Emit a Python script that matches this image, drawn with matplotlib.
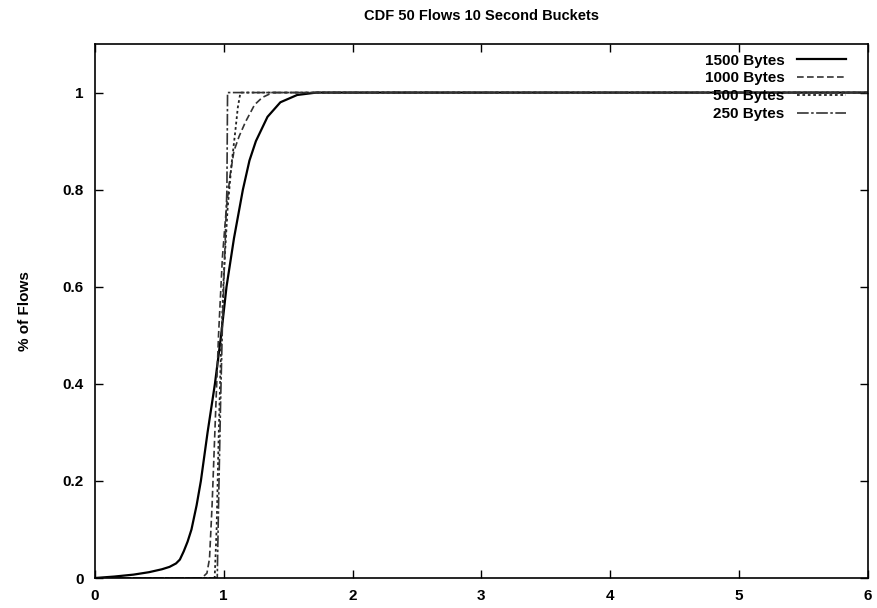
import numpy as np
import matplotlib.pyplot as plt
from matplotlib.ticker import FuncFormatter

plt.rcParams['font.family'] = ['Liberation Sans', 'DejaVu Sans']
plt.rcParams['font.weight'] = 'bold'

# CDF curves per packet size (x = normalized bucket value, y = fraction of flows)
x_1500 = [0, 0.15, 0.3, 0.42, 0.52, 0.58, 0.63, 0.66, 0.69, 0.72, 0.75, 0.79,
          0.823, 0.875, 0.932, 0.98, 1.022, 1.08, 1.149, 1.2, 1.25, 1.34, 1.44,
          1.57, 1.72, 6]
y_1500 = [0, 0.003, 0.007, 0.012, 0.018, 0.023, 0.03, 0.038, 0.055, 0.075,
          0.1, 0.15, 0.2, 0.3, 0.4, 0.5, 0.6, 0.7, 0.8, 0.86, 0.9, 0.95, 0.98,
          0.995, 1.0, 1.0]

x_1000 = [0, 0.83, 0.87, 0.89, 0.91, 0.93, 0.96, 0.99, 1.02, 1.05, 1.08,
          1.12, 1.17, 1.24, 1.3, 1.38, 6]
y_1000 = [0, 0, 0.01, 0.04, 0.15, 0.29, 0.50, 0.66, 0.76, 0.83, 0.88,
          0.91, 0.94, 0.975, 0.99, 1.0, 1.0]

x_500 = [0, 0.93, 0.945, 0.96, 0.98, 1.0, 1.03, 1.06, 1.09, 1.11, 1.13, 6]
y_500 = [0, 0, 0.1, 0.28, 0.48, 0.62, 0.76, 0.85, 0.92, 0.97, 1.0, 1.0]

x_250 = [0, 0.95, 0.96, 0.975, 0.99, 1.01, 1.025, 1.03, 6]
y_250 = [0, 0, 0.15, 0.35, 0.52, 0.68, 0.8, 1.0, 1.0]

x_ticks = [0, 1, 2, 3, 4, 5, 6]
y_ticks = [0, 0.2, 0.4, 0.6, 0.8, 1.0]

fig = plt.figure(figsize=(8.78, 6.08), dpi=100)
ax = fig.add_axes([0.108, 0.0493, 0.8806, 0.8783])

ax.plot(x_1500, y_1500, color='black', lw=1.6, label='1500 Bytes')
ax.plot(x_1000, y_1000, color='#333333', lw=1.2, ls=(0, (4, 2)), label='1000 Bytes')
ax.plot(x_500, y_500, color='#222222', lw=1.3, ls=(0, (1.5, 1.5)), label='500 Bytes')
ax.plot(x_250, y_250, color='#333333', lw=1.2, ls=(0, (7, 1.5, 1.5, 1.5)), label='250 Bytes')

ax.set_xlim(0, 6)
ax.set_ylim(0, 1.1)
ax.set_xticks(x_ticks)
ax.set_yticks(y_ticks)
ax.yaxis.set_major_formatter(FuncFormatter(lambda v, p: '%g' % v))
ax.tick_params(direction='in', top=True, right=True, length=6, width=1,
               labelsize=11, pad=8)
for s in ax.spines.values():
    s.set_linewidth(1.2)

ax.set_title('CDF 50 Flows 10 Second Buckets', fontsize=10.5, fontweight='bold', pad=17)
ax.set_ylabel('% of Flows', fontsize=11, fontweight='bold', labelpad=22)

ax.legend(loc='upper right', frameon=False, markerfirst=False, fontsize=11,
          handlelength=3.2, handletextpad=0.8, labelspacing=0.25,
          borderaxespad=0.3, bbox_to_anchor=(0.985, 1.002))

fig.savefig('out.png', dpi=100)
